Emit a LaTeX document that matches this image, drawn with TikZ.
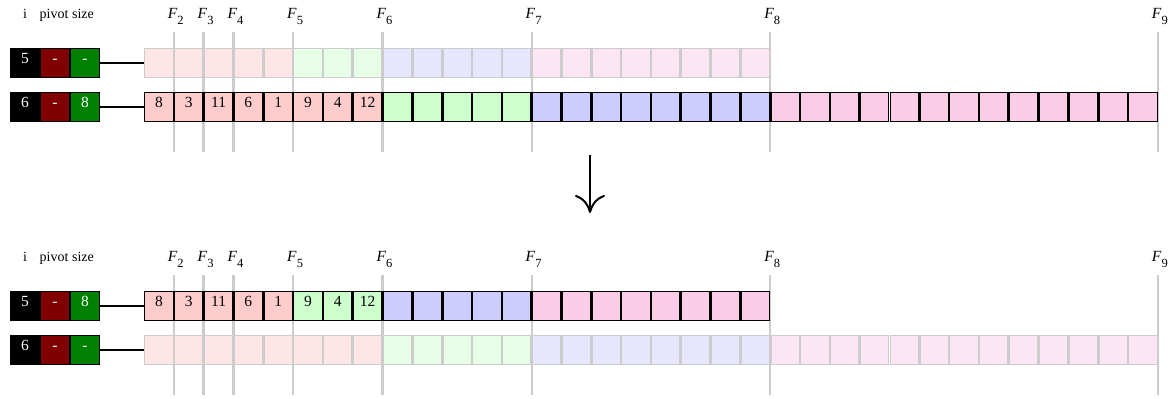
\documentclass[tikz,border=0pt]{standalone}
\usepackage{fontspec}
\setmainfont{Liberation Serif}
\usetikzlibrary{positioning, arrows.meta}

% Fibonacci boundary label, F with a lowered index
\newcommand{\fib}[1]{\textit{F}\raisebox{-6pt}{\fontsize{12.5}{12.5}\selectfont #1}}

\colorlet{segA}{red!20}
\colorlet{segB}{green!20}
\colorlet{segC}{blue!20}
\colorlet{segD}{magenta!20}

\begin{document}
\begin{tikzpicture}[
    x=1pt, y=1pt,
    head/.style={
        anchor=base,
        inner sep=0pt,
        font=\fontsize{14}{14}\selectfont,
    },
    flab/.style={
        anchor=base,
        inner sep=0pt,
        font=\fontsize{15.5}{15.5}\selectfont,
    },
    field/.style={
        draw,
        line width=1.3pt,
        minimum width=28.7pt,
        minimum height=28.7pt,
        inner sep=0pt,
        text=white,
        text height=10pt,
        text depth=10pt,
        font=\fontsize{15.5}{15.5}\selectfont,
    },
    cell/.style={
        draw,
        line width=1.3pt,
        minimum size=28.5pt,
        inner sep=0pt,
    },
    ghost/.style={
        cell,
        draw=gray!40,
    },
    num/.style={
        inner sep=0pt,
        text height=10pt,
        text depth=10pt,
        font=\fontsize{15.5}{15.5}\selectfont,
    },
    guide/.style={
        gray!40,
        line width=2.3pt,
    },
    link/.style={
        line width=2pt,
    },
    flow/.style={
        line width=2pt,
        -{Computer Modern Rightarrow[length=18pt, width=30pt, line width=2pt]},
    },
]

    \useasboundingbox (0,0) rectangle (1173,-399);

    % ---- before ----
    \node[head] (pre-hi) at (25,-18) {i};
    \node[head] (pre-hp) at (54,-18) {pivot};
    \node[head] (pre-hs) at (83,-18) {size};

    \foreach \k/\n in {1/2, 2/3, 3/4, 5/5, 8/6, 13/7, 21/8, 34/9} {
        \node[flab] (pre-f\n) at ({146+29.82*\k},-18) {\fib{\n}};
        \coordinate (pre-g\n-top) at ({144+29.82*\k},-32);
        \coordinate (pre-g\n-bot) at ({144+29.82*\k},-152);
        \draw[guide] (pre-g\n-top) -- (pre-g\n-bot);
    }

    \node[field, fill=black] (pre5-i) at (25,-63) {5};
    \node[field, fill=red!50!black, right=0pt of pre5-i] (pre5-p) {-};
    \node[field, fill=green!50!black, right=0pt of pre5-p] (pre5-s) {-};

    \node[field, fill=black] (pre6-i) at (25,-107) {6};
    \node[field, fill=red!50!black, right=0pt of pre6-i] (pre6-p) {-};
    \node[field, fill=green!50!black, right=0pt of pre6-p] (pre6-s) {8};

    \foreach \a/\b/\c in {1/5/segA, 6/8/segB, 9/13/segC, 14/21/segD}
        \foreach \k in {\a,...,\b}
            \node[ghost, fill=\c!50] (pre5-\k) at ({144+29.82*(\k-0.5)},-63) {};

    \foreach \a/\b/\c in {1/8/segA, 9/13/segB, 14/21/segC, 22/34/segD}
        \foreach \k in {\a,...,\b}
            \node[cell, fill=\c] (pre6-\k) at ({144+29.82*(\k-0.5)},-107) {};

    \foreach \v [count=\k] in {8,3,11,6,1,9,4,12}
        \node[num] (pre6-v\k) at (pre6-\k) {\v};

    \draw[link] (pre5-s) -- (pre5-1);
    \draw[link] (pre6-s) -- (pre6-1);

    % ---- step ----
    \coordinate (arr-top) at (590,-155);
    \coordinate (arr-bot) at (590,-213);
    \draw[flow] (arr-top) -- (arr-bot);

    % ---- after ----
    \begin{scope}[yshift=-243pt]
    \node[head] (post-hi) at (25,-18) {i};
    \node[head] (post-hp) at (54,-18) {pivot};
    \node[head] (post-hs) at (83,-18) {size};

    \foreach \k/\n in {1/2, 2/3, 3/4, 5/5, 8/6, 13/7, 21/8, 34/9} {
        \node[flab] (post-f\n) at ({146+29.82*\k},-18) {\fib{\n}};
        \coordinate (post-g\n-top) at ({144+29.82*\k},-32);
        \coordinate (post-g\n-bot) at ({144+29.82*\k},-152);
        \draw[guide] (post-g\n-top) -- (post-g\n-bot);
    }

    \node[field, fill=black] (post5-i) at (25,-63) {5};
    \node[field, fill=red!50!black, right=0pt of post5-i] (post5-p) {-};
    \node[field, fill=green!50!black, right=0pt of post5-p] (post5-s) {8};

    \node[field, fill=black] (post6-i) at (25,-107) {6};
    \node[field, fill=red!50!black, right=0pt of post6-i] (post6-p) {-};
    \node[field, fill=green!50!black, right=0pt of post6-p] (post6-s) {-};

    \foreach \a/\b/\c in {1/5/segA, 6/8/segB, 9/13/segC, 14/21/segD}
        \foreach \k in {\a,...,\b}
            \node[cell, fill=\c] (post5-\k) at ({144+29.82*(\k-0.5)},-63) {};

    \foreach \a/\b/\c in {1/8/segA, 9/13/segB, 14/21/segC, 22/34/segD}
        \foreach \k in {\a,...,\b}
            \node[ghost, fill=\c!50] (post6-\k) at ({144+29.82*(\k-0.5)},-107) {};

    \foreach \v [count=\k] in {8,3,11,6,1,9,4,12}
        \node[num] (post5-v\k) at (post5-\k) {\v};

    \draw[link] (post5-s) -- (post5-1);
    \draw[link] (post6-s) -- (post6-1);
    \end{scope}

\end{tikzpicture}
\end{document}
